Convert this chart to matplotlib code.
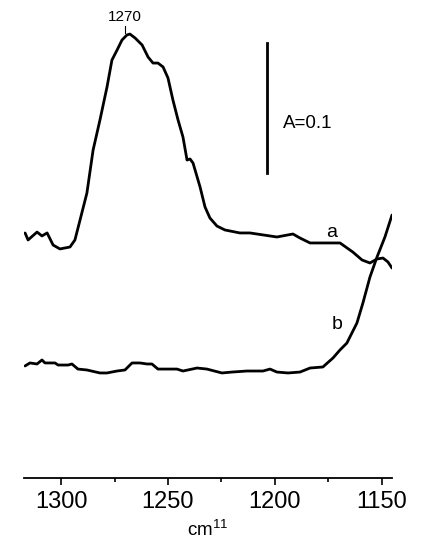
import matplotlib
matplotlib.use("Agg")
import matplotlib.pyplot as plt
from matplotlib.ticker import MultipleLocator

plt.rcParams['font.family'] = ['Liberation Sans', 'DejaVu Sans']

# Curve a (wavenumber, absorbance)
wn_a = [1316.8, 1315.4, 1311.2, 1308.9, 1306.5, 1303.7, 1300.5, 1295.8, 1293.5, 1291.1,
        1287.9, 1285.0, 1281.8, 1278.5, 1276.2, 1273.8, 1271.5, 1269.2, 1267.8, 1265.4,
        1262.1, 1259.3, 1257.0, 1254.7, 1252.3, 1250.0, 1247.7, 1245.3, 1243.0, 1241.1,
        1239.7, 1238.3, 1235.0, 1232.7, 1230.4, 1227.1, 1223.4, 1216.4, 1211.7, 1199.1,
        1191.6, 1188.3, 1183.6, 1169.6, 1163.6, 1159.3, 1155.6, 1152.3, 1149.5, 1147.2,
        1145.3]
abs_a = [0.1885, 0.1831, 0.1892, 0.1862, 0.1885, 0.1792, 0.1762, 0.1777, 0.1831, 0.1985,
         0.2192, 0.2523, 0.2754, 0.3008, 0.3215, 0.3292, 0.3369, 0.3408, 0.3415, 0.3385,
         0.3331, 0.3238, 0.3192, 0.3192, 0.3162, 0.3077, 0.2908, 0.2754, 0.2623, 0.2446,
         0.2454, 0.2423, 0.2238, 0.2085, 0.2000, 0.1938, 0.1908, 0.1885, 0.1885, 0.1854,
         0.1877, 0.1846, 0.1808, 0.1808, 0.1738, 0.1677, 0.1654, 0.1685, 0.1692, 0.1662,
         0.1615]

# Curve b
wn_b = [1316.8, 1314.5, 1311.2, 1308.9, 1307.5, 1302.8, 1301.4, 1296.7, 1294.9, 1292.1,
        1287.9, 1281.8, 1278.5, 1273.8, 1270.1, 1266.8, 1263.1, 1259.8, 1257.5, 1254.7,
        1245.8, 1243.0, 1236.4, 1231.8, 1224.8, 1220.1, 1213.1, 1205.6, 1202.3, 1199.1,
        1193.9, 1188.3, 1183.6, 1177.6, 1172.9, 1169.6, 1166.4, 1161.7, 1158.9, 1155.6,
        1152.3, 1148.6, 1145.3]
abs_b = [0.0862, 0.0885, 0.0877, 0.0908, 0.0885, 0.0885, 0.0869, 0.0869, 0.0877, 0.0838,
         0.0831, 0.0808, 0.0808, 0.0823, 0.0831, 0.0885, 0.0885, 0.0877, 0.0877, 0.0838,
         0.0838, 0.0823, 0.0846, 0.0838, 0.0808, 0.0815, 0.0823, 0.0823, 0.0838, 0.0815,
         0.0808, 0.0815, 0.0846, 0.0854, 0.0923, 0.0985, 0.1038, 0.1192, 0.1346, 0.1546,
         0.1700, 0.1854, 0.2023]

xticks = [1300, 1250, 1200, 1150]
peak_label = "1270"
peak_wn = 1270
scale_wn = 1203.7
scale_lo, scale_hi = 0.2346, 0.3346

fig = plt.figure(figsize=(4.23, 5.5), dpi=100)
ax = fig.add_axes([24/423, 72/550, 368/423, 478/550])
ax.set_xlim(1317.3, 1145.3)
ax.set_ylim(0, 0.3677)

lw = 2.0
ax.plot(wn_a, abs_a, color='black', lw=lw, solid_joinstyle='round', solid_capstyle='round')
ax.plot(wn_b, abs_b, color='black', lw=lw, solid_joinstyle='round', solid_capstyle='round')

# scale bar
ax.plot([scale_wn, scale_wn], [scale_lo, scale_hi], color='black', lw=lw)
ax.text(1196.3, 0.273, "A=0.1", fontsize=13.5, ha='left', va='center')

# labels
ax.text(1173.4, 0.189, "a", fontsize=14, ha='center', va='center')
ax.text(1171.0, 0.1177, "b", fontsize=14, ha='center', va='center')
ax.plot([peak_wn, peak_wn], [0.3425, 0.3475], color='black', lw=0.8)
ax.text(peak_wn, 0.3490, peak_label, fontsize=11, ha='center', va='bottom')

for s in ['top', 'right', 'left']:
    ax.spines[s].set_visible(False)
ax.spines['bottom'].set_linewidth(1.3)
ax.set_yticks([])
ax.set_xticks(xticks)
ax.xaxis.set_minor_locator(MultipleLocator(25))
ax.tick_params(axis='x', which='major', length=5, width=1.2, labelsize=17, pad=4)
ax.tick_params(axis='x', which='minor', length=3, width=1.2)
ax.set_xlabel(r"cm$^{\mathregular{11}}$", fontsize=13.5, labelpad=5)

fig.savefig("out.png", dpi=100)
